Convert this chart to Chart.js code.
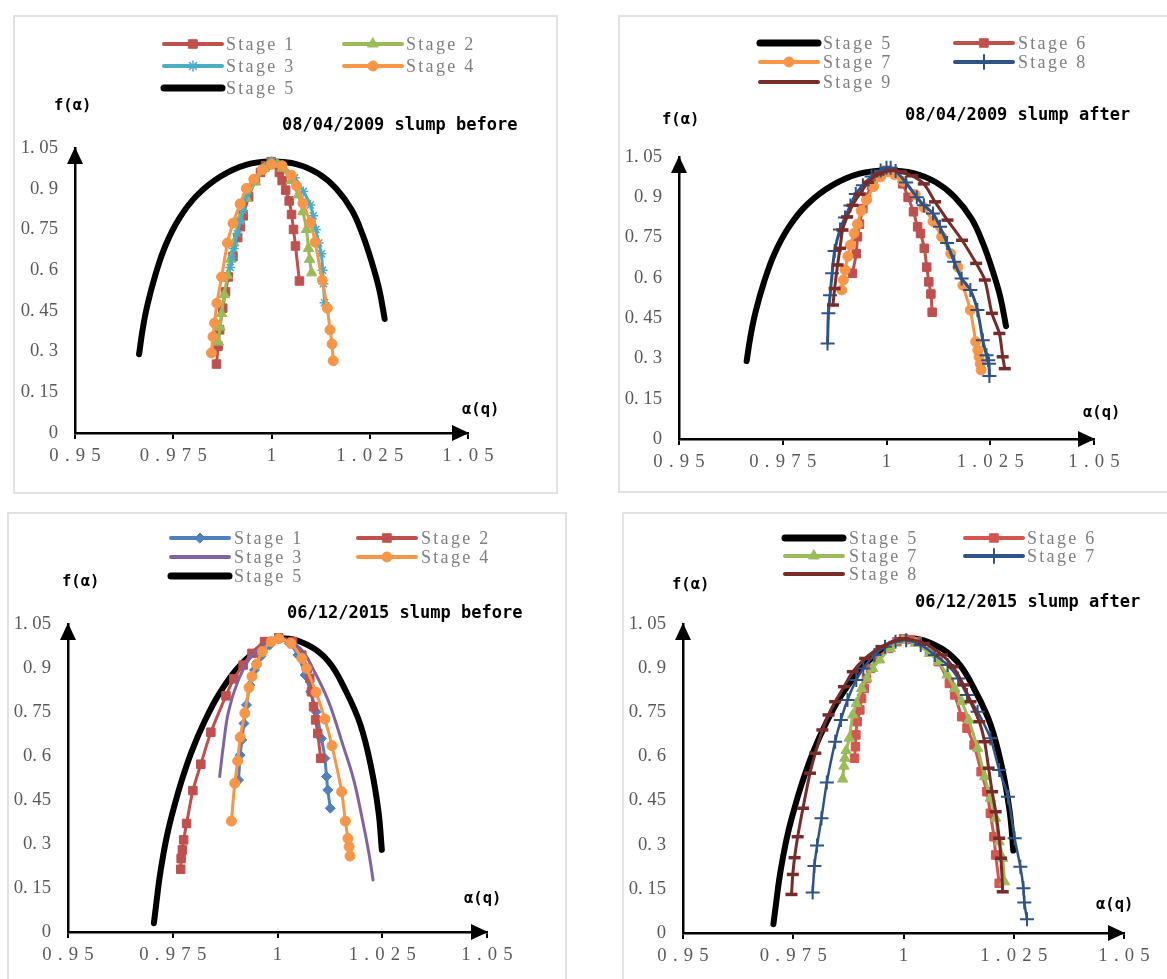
<!DOCTYPE html>
<html>
<head>
<meta charset="utf-8">
<title>Multifractal spectra</title>
<script src="https://cdn.jsdelivr.net/npm/chart.js@4.4.1/dist/chart.umd.min.js"></script>
<style>
  html, body { margin: 0; padding: 0; background: #fff; }
  body { width: 1167px; height: 979px; position: relative; overflow: hidden; }
  .frame { position: absolute; box-sizing: border-box; border: 2px solid #e2e2e2; }
  canvas { position: absolute; }
</style>
</head>
<body>
<script>
// ---- tick labels ----
const SP = '\u2004';
const xTickLabels = ['0.95', '0.975', '1', '1.025', '1.05'].map(s => s.split('').join(SP));
const yTickLabels = ['0', '0. 15', '0. 3', '0. 45', '0. 6', '0. 75', '0. 9', '1. 05'];

// ---- data: [alpha(q), f(alpha)] ----
// Stage 5 is the same curve in both 2009 panels, and in both 2015 panels
const stage5_2009 = [[0.9663,0.29],[0.9672,0.38],[0.9684,0.47],[0.9704,0.58],[0.9730,0.69],[0.9765,0.79],[0.9810,0.875],[0.9870,0.945],[0.9935,0.988],[1.0000,1.0],[1.0065,0.99],[1.0120,0.955],[1.0165,0.90],[1.0205,0.82],[1.0232,0.73],[1.0255,0.63],[1.0274,0.53],[1.0288,0.42]];
const stage5_2015 = [[0.9705,0.03],[0.9711,0.10],[0.9718,0.18],[0.9727,0.26],[0.9738,0.34],[0.9752,0.42],[0.9770,0.51],[0.9795,0.615],[0.9825,0.715],[0.9860,0.81],[0.9905,0.90],[0.9955,0.965],[1.0007,1.0],[1.0071,0.979],[1.0122,0.922],[1.0164,0.819],[1.0198,0.706],[1.0224,0.558],[1.0241,0.41],[1.0249,0.28]];

// 08/04/2009 slump before
const b09s1 = [[0.9860,0.254],[0.9864,0.32],[0.9868,0.38],[0.9876,0.46],[0.9883,0.52],[0.9890,0.575],[0.9902,0.65],[0.9914,0.72],[0.9921,0.76],[0.9928,0.80],[0.9942,0.87],[0.9959,0.93],[0.9972,0.96],[0.9985,0.985],[0.9999,1.0],[1.0010,0.99],[1.0020,0.96],[1.0027,0.93],[1.0036,0.895],[1.0045,0.855],[1.0051,0.805],[1.0056,0.75],[1.0061,0.689],[1.0071,0.56]];
const b09s2 = [[0.9865,0.335],[0.9869,0.39],[0.9873,0.44],[0.9880,0.51],[0.9888,0.58],[0.9896,0.64],[0.9904,0.70],[0.9918,0.785],[0.9936,0.865],[0.9959,0.925],[0.9982,0.975],[1.0000,0.995],[1.0015,0.99],[1.0027,0.975],[1.0050,0.93],[1.0068,0.877],[1.0080,0.815],[1.0089,0.75],[1.0094,0.68],[1.0097,0.64],[1.0102,0.59]];
const b09s3 = [[0.9895,0.61],[0.9900,0.645],[0.9904,0.68],[0.9913,0.735],[0.9920,0.78],[0.9928,0.82],[0.9937,0.88],[0.9955,0.93],[0.9978,0.975],[1.0000,1.0],[1.0027,0.985],[1.0059,0.94],[1.0081,0.89],[1.0099,0.84],[1.0106,0.80],[1.0113,0.75],[1.0120,0.70],[1.0127,0.66],[1.0130,0.60],[1.0132,0.55],[1.0135,0.48]];
const b09s4 = [[0.9847,0.295],[0.9851,0.355],[0.9855,0.405],[0.9861,0.478],[0.9873,0.575],[0.9888,0.70],[0.9902,0.773],[0.9920,0.844],[0.9936,0.901],[0.9955,0.935],[0.9977,0.97],[1.0000,0.99],[1.0027,0.985],[1.0050,0.95],[1.0064,0.91],[1.0080,0.846],[1.0099,0.775],[1.0111,0.703],[1.0129,0.563],[1.0142,0.46],[1.0149,0.38],[1.0154,0.328],[1.0157,0.266]];

// 08/04/2009 slump after
const a09s6 = [[0.9918,0.617],[0.9927,0.69],[0.9930,0.753],[0.9935,0.80],[0.9943,0.858],[0.9952,0.90],[0.9964,0.944],[0.9981,0.98],[1.0000,1.0],[1.0022,0.985],[1.0039,0.95],[1.0052,0.90],[1.0065,0.846],[1.0075,0.79],[1.0082,0.765],[1.0091,0.71],[1.0097,0.64],[1.0102,0.585],[1.0107,0.54],[1.0110,0.472]];
const a09s7 = [[0.9892,0.555],[0.9896,0.592],[0.9900,0.63],[0.9907,0.68],[0.9913,0.722],[0.9922,0.766],[0.9930,0.80],[0.9939,0.85],[0.9952,0.89],[0.9969,0.94],[0.9986,0.976],[1.0004,0.995],[1.0020,0.985],[1.0039,0.96],[1.0069,0.91],[1.0090,0.862],[1.0112,0.81],[1.0133,0.753],[1.0155,0.69],[1.0172,0.64],[1.0184,0.572],[1.0202,0.48],[1.0215,0.362],[1.0220,0.33],[1.0223,0.306],[1.0226,0.28],[1.0228,0.257]];
const a09s8 = [[0.9858,0.356],[0.9860,0.468],[0.9864,0.535],[0.9869,0.617],[0.9875,0.70],[0.9888,0.78],[0.9900,0.825],[0.9913,0.869],[0.9926,0.912],[0.9943,0.945],[0.9964,0.977],[0.9986,1.0],[1.0000,1.01],[1.0010,1.01],[1.0022,0.998],[1.0047,0.955],[1.0073,0.90],[1.0090,0.87],[1.0112,0.84],[1.0129,0.79],[1.0146,0.73],[1.0163,0.66],[1.0181,0.598],[1.0202,0.555],[1.0219,0.48],[1.0232,0.368],[1.0241,0.312],[1.0245,0.293],[1.0247,0.28],[1.0248,0.235]];
const a09s9 = [[0.9871,0.499],[0.9875,0.56],[0.9882,0.648],[0.9888,0.71],[0.9894,0.778],[0.9905,0.827],[0.9918,0.87],[0.9935,0.912],[0.9956,0.956],[0.9981,0.987],[1.0011,1.0],[1.0035,0.995],[1.0062,0.98],[1.0090,0.95],[1.0117,0.883],[1.0147,0.815],[1.0182,0.74],[1.0216,0.654],[1.0237,0.592],[1.0254,0.468],[1.0272,0.393],[1.0280,0.306],[1.0285,0.262]];

// 06/12/2015 slump before
const b15s1 = [[0.9907,0.518],[0.9911,0.603],[0.9915,0.655],[0.9920,0.711],[0.9926,0.774],[0.9934,0.842],[0.9945,0.893],[0.9960,0.939],[0.9981,0.978],[1.0003,1.0],[1.0028,0.984],[1.0049,0.944],[1.0066,0.876],[1.0079,0.819],[1.0092,0.751],[1.0105,0.66],[1.0113,0.592],[1.0117,0.53],[1.0120,0.484],[1.0126,0.422]];
const b15s2 = [[0.9769,0.214],[0.9770,0.25],[0.9773,0.28],[0.9776,0.314],[0.9783,0.37],[0.9798,0.482],[0.9817,0.572],[0.9841,0.681],[0.9877,0.805],[0.9896,0.863],[0.9918,0.91],[0.9939,0.95],[0.9969,0.99],[1.0003,1.003],[1.0036,0.99],[1.0058,0.944],[1.0071,0.899],[1.0077,0.865],[1.0081,0.819],[1.0086,0.768],[1.0091,0.723],[1.0096,0.677],[1.0103,0.592]];
const b15s3 = [[0.9862,0.53],[0.9871,0.638],[0.9883,0.751],[0.9905,0.853],[0.9934,0.933],[0.9973,0.984],[1.0007,1.0],[1.0054,0.967],[1.0088,0.888],[1.0122,0.785],[1.0156,0.638],[1.0181,0.524],[1.0202,0.388],[1.0219,0.262],[1.0228,0.177]];
const b15s4 = [[0.9890,0.378],[0.9898,0.507],[0.9905,0.583],[0.9911,0.664],[0.9922,0.746],[0.9932,0.833],[0.9939,0.871],[0.9950,0.913],[0.9964,0.956],[0.9985,0.99],[1.0003,1.0],[1.0032,0.984],[1.0058,0.933],[1.0069,0.899],[1.0092,0.817],[1.0113,0.726],[1.0130,0.635],[1.0153,0.478],[1.0162,0.378],[1.0168,0.319],[1.0171,0.291],[1.0173,0.259]];

// 06/12/2015 slump after
const a15s6 = [[0.9889,0.594],[0.9891,0.633],[0.9892,0.673],[0.9895,0.718],[0.9901,0.758],[0.9905,0.797],[0.9911,0.831],[0.9916,0.865],[0.9925,0.899],[0.9942,0.933],[0.9966,0.967],[0.9985,0.99],[1.0000,1.0],[1.0015,0.997],[1.0031,0.99],[1.0059,0.956],[1.0079,0.922],[1.0104,0.848],[1.0116,0.809],[1.0132,0.735],[1.0144,0.696],[1.0160,0.639],[1.0176,0.548],[1.0189,0.48],[1.0197,0.407],[1.0205,0.327],[1.0209,0.265],[1.0217,0.169]];
const a15s7 = [[0.9862,0.523],[0.9865,0.567],[0.9867,0.594],[0.9870,0.62],[0.9877,0.662],[0.9885,0.741],[0.9893,0.78],[0.9905,0.831],[0.9917,0.865],[0.9930,0.899],[0.9946,0.928],[0.9970,0.967],[0.9998,0.995],[1.0027,0.985],[1.0059,0.95],[1.0079,0.922],[1.0099,0.877],[1.0116,0.831],[1.0132,0.786],[1.0148,0.724],[1.0168,0.628],[1.0184,0.531],[1.0197,0.458],[1.0209,0.39],[1.0217,0.31],[1.0225,0.254],[1.0229,0.174]];
const a15s7b = [[0.9794,0.138],[0.9798,0.228],[0.9804,0.297],[0.9814,0.39],[0.9826,0.511],[0.9845,0.65],[0.9858,0.724],[0.9873,0.792],[0.9893,0.86],[0.9909,0.899],[0.9934,0.945],[0.9958,0.973],[0.9982,0.99],[1.0006,0.995],[1.0039,0.979],[1.0071,0.945],[1.0100,0.911],[1.0124,0.865],[1.0144,0.809],[1.0168,0.752],[1.0197,0.662],[1.0217,0.554],[1.0237,0.463],[1.0252,0.322],[1.0265,0.225],[1.0272,0.152],[1.0274,0.104],[1.0280,0.047]];
const a15s8 = [[0.9746,0.131],[0.9749,0.199],[0.9753,0.256],[0.9760,0.327],[0.9772,0.424],[0.9788,0.543],[0.9800,0.611],[0.9816,0.69],[0.9830,0.741],[0.9845,0.786],[0.9865,0.837],[0.9885,0.888],[0.9913,0.933],[0.9950,0.973],[1.0000,1.0],[1.0047,0.984],[1.0087,0.945],[1.0112,0.905],[1.0136,0.843],[1.0152,0.786],[1.0172,0.718],[1.0184,0.65],[1.0193,0.56],[1.0201,0.48],[1.0209,0.412],[1.0217,0.322],[1.0221,0.254],[1.0225,0.14]];

// ---- styles ----
const MARKERS = {
  square:   { pointStyle: 'rect', pointRadius: 6, pointBorderWidth: 1 },
  triangle: { pointStyle: 'triangle', pointRadius: 6, pointBorderWidth: 1 },
  star:     { pointStyle: 'star', pointRadius: 5, pointBorderWidth: 1.5 },
  circle:   { pointStyle: 'circle', pointRadius: 5, pointBorderWidth: 1 },
  plus:     { pointStyle: 'cross', pointRadius: 7, pointBorderWidth: 2 },
  dash:     { pointStyle: 'line', pointRadius: 6, pointBorderWidth: 3.5 },
  diamond:  { pointStyle: 'rectRot', pointRadius: 5, pointBorderWidth: 1 },
  none:     { pointStyle: 'circle', pointRadius: 0, pointBorderWidth: 0 }
};

function series(label, pts, color, marker, width, idx) {
  const m = MARKERS[marker];
  return Object.assign({
    label: label,
    data: pts.map(p => ({ x: p[0], y: p[1] })),
    showLine: true,
    borderColor: color,
    backgroundColor: color,
    pointBackgroundColor: color,
    pointBorderColor: color,
    borderWidth: width,
    borderCapStyle: 'round',
    borderJoinStyle: 'round',
    tension: marker === 'none' ? 0.4 : 0.25,
    fill: false,
    order: width > 4 ? 100 : -idx,   // thick envelope underneath, later series on top
    legendMarker: marker
  }, m);
}

// ---- panel layout (page pixels) ----
const PANELS = [
  {
    box: [13, 15, 545, 479], area: [75, 148, 468, 433],
    title: '08/04/2009 slump before', titleAt: [282, 126], fAt: [54, 106], qAt: [462, 410],
    legLine: [164, 344], legText: [226, 406], legY: [44, 66, 88],
    datasets: [
      series('Stage 1', b09s1, '#C0504D', 'square', 3, 0),
      series('Stage 2', b09s2, '#9BBB59', 'triangle', 3, 1),
      series('Stage 3', b09s3, '#4BACC6', 'star', 3, 2),
      series('Stage 4', b09s4, '#F79646', 'circle', 3, 3),
      series('Stage 5', stage5_2009, '#000000', 'none', 6, 4)
    ]
  },
  {
    box: [618, 15, 560, 478], area: [679, 157, 1094, 439],
    title: '08/04/2009 slump after', titleAt: [905, 116], fAt: [662, 120], qAt: [1083, 413],
    legLine: [760, 955], legText: [823, 1018], legY: [43, 62, 82],
    datasets: [
      series('Stage 5', stage5_2009, '#000000', 'none', 6, 0),
      series('Stage 6', a09s6, '#C0504D', 'square', 3, 1),
      series('Stage 7', a09s7, '#F79646', 'circle', 3, 2),
      series('Stage 8', a09s8, '#2E5487', 'plus', 3, 3),
      series('Stage 9', a09s9, '#772C2A', 'dash', 3, 4)
    ]
  },
  {
    box: [7, 512, 560, 480], area: [68, 624, 487, 932],
    title: '06/12/2015 slump before', titleAt: [287, 614], fAt: [62, 582], qAt: [464, 899],
    legLine: [171, 358], legText: [234, 421], legY: [538, 557, 576],
    datasets: [
      series('Stage 1', b15s1, '#4F81BD', 'diamond', 3, 0),
      series('Stage 2', b15s2, '#C0504D', 'square', 3, 1),
      series('Stage 3', b15s3, '#8064A2', 'none', 3, 2),
      series('Stage 4', b15s4, '#F79646', 'circle', 3, 3),
      series('Stage 5', stage5_2015, '#000000', 'none', 6, 4)
    ]
  },
  {
    box: [622, 512, 560, 480], area: [683, 624, 1124, 933],
    title: '06/12/2015 slump after', titleAt: [915, 603], fAt: [672, 585], qAt: [1096, 905],
    legLine: [785, 965], legText: [849, 1027], legY: [538, 556, 574],
    datasets: [
      series('Stage 5', stage5_2015, '#000000', 'none', 6, 0),
      series('Stage 6', a15s6, '#D4564F', 'square', 3, 1),
      series('Stage 7', a15s7, '#9BBB59', 'triangle', 3, 2),
      series('Stage 7', a15s7b, '#2E5487', 'plus', 2.5, 3),
      series('Stage 8', a15s8, '#772C2A', 'dash', 3, 4)
    ]
  }
];

const Y_W = 58, X_H = 40;
const TICK_FONT = { family: '"Liberation Serif", "DejaVu Serif", serif', size: 18.7 };

// arrows, axis names, panel title and legend
const decor = {
  id: 'decor',
  afterDraw(chart, args, o) {
    const ctx = chart.ctx, a = chart.chartArea;
    const ox = o.ox, oy = o.oy;
    ctx.save();
    ctx.fillStyle = '#000';
    ctx.beginPath();
    ctx.moveTo(a.right + 1, a.bottom);
    ctx.lineTo(a.right - 16, a.bottom - 8);
    ctx.lineTo(a.right - 16, a.bottom + 8);
    ctx.closePath();
    ctx.fill();
    ctx.beginPath();
    ctx.moveTo(a.left, a.top - 1);
    ctx.lineTo(a.left - 8, a.top + 16);
    ctx.lineTo(a.left + 8, a.top + 16);
    ctx.closePath();
    ctx.fill();

    ctx.textBaseline = 'middle';
    ctx.textAlign = 'left';
    ctx.font = 'bold 17px "DejaVu Sans Mono", monospace';
    ctx.fillText(o.title, o.titleAt[0] - ox, o.titleAt[1] - oy);
    ctx.font = 'bold 15.5px "DejaVu Sans Mono", monospace';
    ctx.fillText('f(\u03B1)', o.fAt[0] - ox, o.fAt[1] - oy);
    ctx.fillText('\u03B1(q)', o.qAt[0] - ox, o.qAt[1] - oy);

    // legend, two columns
    chart.data.datasets.forEach((ds, i) => {
      const col = i % 2, row = Math.floor(i / 2);
      const x0 = o.legLine[col] - ox, y = o.legY[row] - oy, len = 58;
      ctx.strokeStyle = ds.borderColor;
      ctx.fillStyle = ds.borderColor;
      ctx.lineWidth = ds.borderWidth > 4 ? 7 : 4;
      ctx.lineCap = 'round';
      ctx.beginPath();
      ctx.moveTo(x0, y);
      ctx.lineTo(x0 + len, y);
      ctx.stroke();
      const m = MARKERS[ds.legendMarker];
      if (m.pointRadius > 0 && Chart.helpers && Chart.helpers.drawPoint) {
        ctx.lineWidth = m.pointBorderWidth;
        Chart.helpers.drawPoint(ctx, { pointStyle: m.pointStyle, rotation: 0, radius: m.pointRadius, borderWidth: m.pointBorderWidth }, x0 + len / 2, y);
      }
      ctx.fillStyle = '#7f7f7f';
      ctx.font = '18px "Liberation Serif", "DejaVu Serif", serif';
      if ('letterSpacing' in ctx) ctx.letterSpacing = '2.3px';
      ctx.fillText(ds.label, o.legText[col] - ox, y + 1);
      if ('letterSpacing' in ctx) ctx.letterSpacing = '0px';
    });
    ctx.restore();
  }
};

PANELS.forEach((p, n) => {
  const [bl, bt, bw, bh] = p.box;
  const [al, at, ar, ab] = p.area;

  const frame = document.createElement('div');
  frame.className = 'frame';
  Object.assign(frame.style, { left: bl + 'px', top: bt + 'px', width: bw + 'px', height: bh + 'px' });
  document.body.appendChild(frame);

  const canvas = document.createElement('canvas');
  canvas.id = 'panel' + (n + 1);
  canvas.width = bw;
  canvas.height = bh;
  Object.assign(canvas.style, { left: bl + 'px', top: bt + 'px', width: bw + 'px', height: bh + 'px' });
  document.body.appendChild(canvas);

  new Chart(canvas, {
    type: 'scatter',
    data: { datasets: p.datasets },
    options: {
      responsive: false,
      animation: false,
      devicePixelRatio: 1,
      events: [],
      layout: {
        padding: {
          left: al - bl - Y_W,
          top: at - bt,
          right: bl + bw - ar,
          bottom: bt + bh - ab - X_H
        }
      },
      scales: {
        x: {
          type: 'linear', min: 0.95, max: 1.05,
          afterFit: s => { s.height = X_H; },
          afterBuildTicks: s => { s.ticks = [0.95, 0.975, 1, 1.025, 1.05].map(v => ({ value: v })); },
          grid: { display: true, drawOnChartArea: false, drawTicks: true, tickLength: 6, color: '#000', lineWidth: 2 },
          border: { display: true, color: '#000', width: 2.5 },
          ticks: {
            padding: 6, color: '#595959', font: TICK_FONT, maxRotation: 0, autoSkip: false,
            callback: (v, i) => xTickLabels[i]
          }
        },
        y: {
          type: 'linear', min: 0, max: 1.05,
          afterFit: s => { s.width = Y_W; },
          afterBuildTicks: s => { s.ticks = [0, 0.15, 0.3, 0.45, 0.6, 0.75, 0.9, 1.05].map(v => ({ value: v })); },
          grid: { display: false, drawTicks: false, tickLength: 0 },
          border: { display: true, color: '#000', width: 2.5 },
          ticks: {
            padding: 17, color: '#595959', font: TICK_FONT, autoSkip: false,
            callback: (v, i) => yTickLabels[i]
          }
        }
      },
      plugins: {
        legend: { display: false },
        tooltip: { enabled: false },
        decor: {
          ox: bl, oy: bt, title: p.title, titleAt: p.titleAt, fAt: p.fAt, qAt: p.qAt,
          legLine: p.legLine, legText: p.legText, legY: p.legY
        }
      }
    },
    plugins: [decor]
  });
});
</script>
</body>
</html>
